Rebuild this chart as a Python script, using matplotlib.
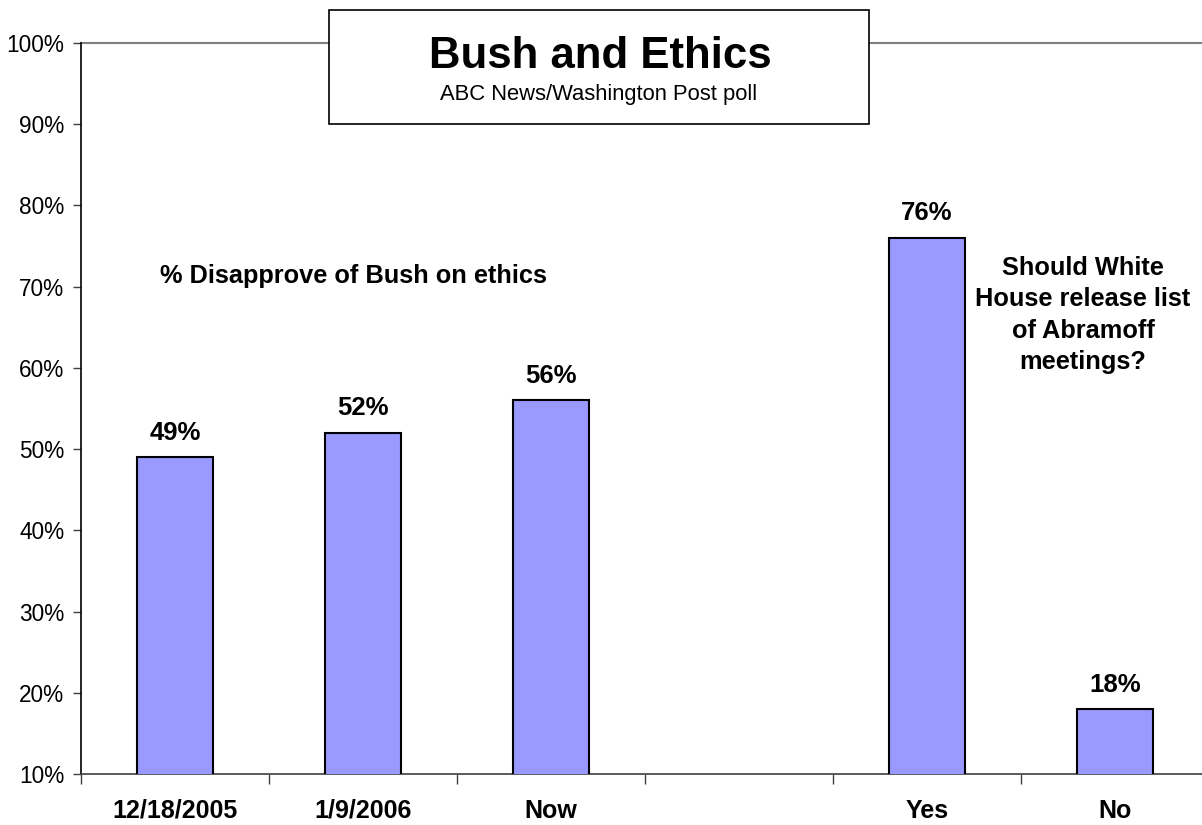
import matplotlib
matplotlib.use("Agg")
import matplotlib.pyplot as plt
from matplotlib.patches import Rectangle

plt.rcParams['font.family'] = ['Liberation Sans', 'DejaVu Sans']

categories = ["12/18/2005", "1/9/2006", "Now", "", "Yes", "No"]
values = [49, 52, 56, None, 76, 18]
yticks = [10, 20, 30, 40, 50, 60, 70, 80, 90, 100]
title = "Bush and Ethics"
subtitle = "ABC News/Washington Post poll"
note_left = "% Disapprove of Bush on ethics"
note_right = "Should White\nHouse release list\nof Abramoff\nmeetings?"

W, H = 1202, 825
fig = plt.figure(figsize=(W / 100, H / 100), dpi=100)
ax = fig.add_axes([81 / W, 51 / H, (1209 - 81) / W, 731 / H])

xs = [i for i, v in enumerate(values) if v is not None]
vs = [v for v in values if v is not None]
ax.bar(xs, vs, width=0.4, color="#9999FF", edgecolor="black", linewidth=1.5, zorder=3)

for x, v in zip(xs, vs):
    ax.annotate(f"{v}%", (x, v), xytext=(0, 9), textcoords="offset points",
                ha="center", va="bottom", fontsize=18.5, fontweight="bold")

ax.set_xlim(-0.5, len(categories) - 0.5)
ax.set_ylim(10, 100)
ax.set_yticks(yticks)
ax.set_yticklabels([f"{t}%" for t in yticks], fontsize=16.3)

ax.set_xticks([i - 0.5 for i in range(len(categories) + 1)])
ax.set_xticklabels([])
ax.tick_params(axis="x", direction="out", length=7, width=1, color="#404040")
ax.tick_params(axis="y", direction="out", length=6, width=1, color="#404040", pad=6)

for i, c in enumerate(categories):
    ax.text(i, -37 / 731, c, transform=ax.get_xaxis_transform(), ha="center", va="center",
            fontsize=18, fontweight="bold")

for s in ["top", "right"]:
    ax.spines[s].set_visible(False)
ax.spines["left"].set_color("black")
ax.spines["left"].set_linewidth(1.2)
ax.spines["bottom"].set_color("#404040")
ax.spines["bottom"].set_linewidth(1.2)
ax.axhline(100, color="#808080", linewidth=1.5, clip_on=False, zorder=1)

ax.text(353 / W, 1 - 276 / H, note_left, transform=fig.transFigure, ha="center", va="center",
        fontsize=18.3, fontweight="bold")
ax.text(1083 / W, 1 - 315 / H, note_right, transform=fig.transFigure, ha="center", va="center",
        fontsize=18.3, fontweight="bold", linespacing=1.37, multialignment="center")

box = Rectangle((329 / W, 1 - 124 / H), (869 - 329) / W, (124 - 10) / H, transform=fig.transFigure,
                facecolor="white", edgecolor="black", linewidth=1.2, zorder=5)
fig.add_artist(box)
fig.text(600 / W, 1 - 68 / H, title, ha="center", va="baseline", fontsize=31.5, fontweight="bold", zorder=6)
fig.text(599 / W, 1 - 100 / H, subtitle, ha="center", va="baseline", fontsize=15.8, zorder=6)

fig.savefig("out.png", dpi=100)
